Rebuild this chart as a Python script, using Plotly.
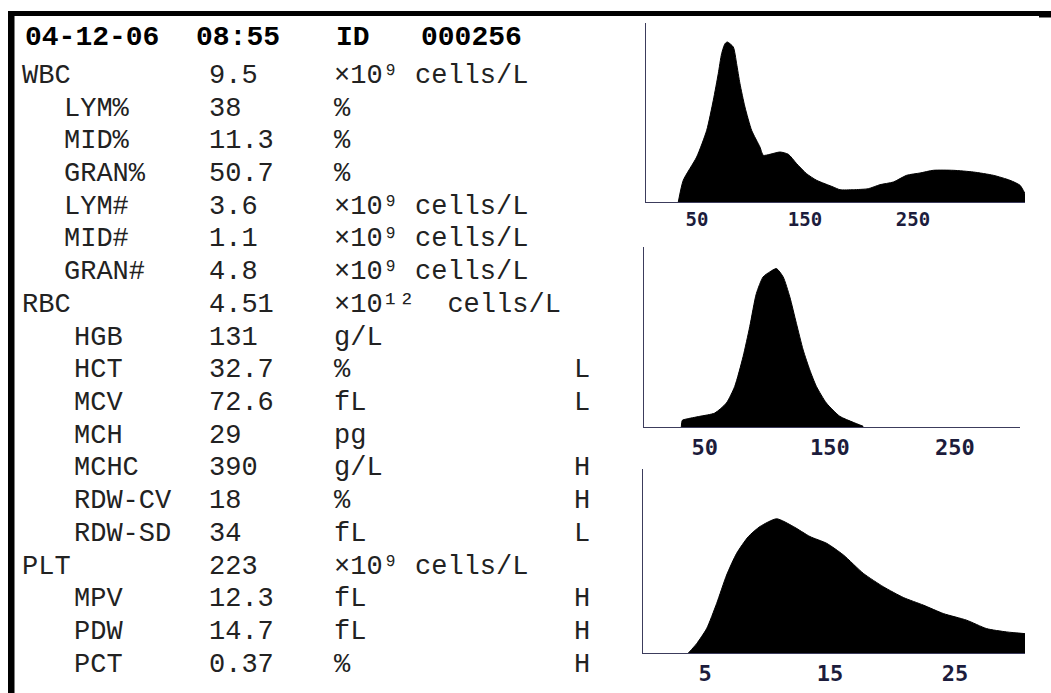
import plotly.graph_objects as go

W, H = 1051, 693

# ---------------- data ----------------
header_date = "04-12-06"
header_time = "08:55"
header_id_label = "ID"
header_id = "000256"

labels = ["WBC", "LYM%", "MID%", "GRAN%", "LYM#", "MID#", "GRAN#",
          "RBC", "HGB", "HCT", "MCV", "MCH", "MCHC", "RDW-CV", "RDW-SD",
          "PLT", "MPV", "PDW", "PCT"]
levels = [0, 1, 1, 1, 1, 1, 1,
          0, 2, 2, 2, 2, 2, 2, 2,
          0, 2, 2, 2]
values = ["9.5", "38", "11.3", "50.7", "3.6", "1.1", "4.8",
          "4.51", "131", "32.7", "72.6", "29", "390", "18", "34",
          "223", "12.3", "14.7", "0.37"]
units = ["×10⁹ cells/L", "%", "%", "%", "×10⁹ cells/L",
         "×10⁹ cells/L", "×10⁹ cells/L",
         "×10¹²  cells/L", "g/L", "%", "fL", "pg", "g/L", "%", "fL",
         "×10⁹ cells/L", "fL", "fL", "%"]
flags = ["", "", "", "", "", "", "",
         "", "", "L", "L", "", "H", "H", "L",
         "", "H", "H", "H"]

# WBC histogram (volume fL vs relative count)
wbc_x = [32.7, 37.3, 49.7, 59.0, 65.1, 69.7, 72.8, 75.9, 78.1, 83.6, 86.7, 89.8,
         94.4, 100.6, 108.3, 111.4, 117.6, 126.9, 134.6, 142.3, 151.5, 160.8,
         176.2, 182.4, 194.8, 208.6, 219.4, 231.8, 244.1, 256.5, 268.8, 287.3,
         305.9, 324.4, 339.8, 349.1, 353.7]
wbc_y = [0, 21.7, 45, 71.7, 101.7, 128.3, 148.3, 158.3, 160, 155, 138.3, 118.3,
         95, 71.7, 55, 46.7, 47.7, 50, 47.7, 38.3, 28.3, 21.7,
         15, 12.3, 12.3, 13.3, 17.3, 20, 26.7, 29, 31.7, 31.7,
         30, 26.7, 21.7, 16.7, 8.3]
wbc_ticks = [50, 150, 250]

# RBC histogram
rbc_x = [31.3, 32.1, 35.3, 46.0, 58.0, 67.3, 74.0, 80.7, 86.0, 91.3, 96.7, 102.0,
         107.3, 112.7, 118.0, 123.3, 128.7, 134.0, 139.3, 147.3, 158.0, 168.7, 176.7]
rbc_y = [0, 6.7, 8, 10.7, 14, 24, 40.7, 70.7, 100.7, 134, 150.7, 155.7,
         159, 150.7, 130.7, 104, 77.3, 57.3, 40.7, 24, 10.7, 4.7, 0.7]
rbc_ticks = [50, 150, 250]

# PLT histogram
plt_x = [3.67, 4.33, 5.13, 5.93, 6.73, 7.53, 8.47, 9.40, 10.73, 12.07, 13.40,
         14.73, 16.07, 17.67, 19.27, 20.87, 22.47, 24.07, 25.93, 27.53, 29.13, 30.6]
plt_y = [0, 9.3, 24.3, 49.3, 77.7, 99.3, 116, 126, 133.7, 126, 116,
         109.3, 97.7, 79.3, 66, 55.3, 47.7, 39.3, 32.7, 24.3, 21, 19.3]
plt_ticks = [5, 15, 25]

# ---------------- figure ----------------
fig = go.Figure()

def px_x(p):
    return p / W

def px_y(p):
    return 1 - p / H

hists = [
    (wbc_x, wbc_y, wbc_ticks, (646, 1025), (23, 202), (2.8, 353.7), 179, 19),
    (rbc_x, rbc_y, rbc_ticks, (644, 1020), (247, 427), (1.5, 302), 180.7, 22),
    (plt_x, plt_y, plt_ticks, (643, 1025), (469, 653), (0.04, 30.6), 183.3, 22),
]

axis_color = "#3c3c5c"
for i, (xs, ys, tks, (x0, x1), (y0, y1), xr, ytop, fsz) in enumerate(hists, start=1):
    sfx = "" if i == 1 else str(i)
    fig.add_trace(go.Scatter(
        x=xs, y=ys, mode="lines", fill="tozeroy",
        fillcolor="black", line=dict(color="black", width=1, shape="spline", smoothing=0.6),
        xaxis="x" + sfx, yaxis="y" + sfx, showlegend=False, hoverinfo="skip"))
    fig.layout["xaxis" + sfx] = dict(
        domain=[px_x(x0), px_x(x1)], range=list(xr), anchor="y" + sfx,
        showgrid=False, zeroline=False, showline=True, linecolor=axis_color,
        linewidth=1.2, ticks="", tickvals=tks, ticktext=[str(t) for t in tks],
        tickfont=dict(family="DejaVu Sans Mono", size=fsz, color="#1c1c3c",
                      weight="bold"),
        fixedrange=True)
    fig.layout["yaxis" + sfx] = dict(
        domain=[px_y(y1), px_y(y0)], range=[0, ytop], anchor="x" + sfx,
        showgrid=False, zeroline=False, showline=True, linecolor=axis_color,
        linewidth=1.2, showticklabels=False, ticks="", fixedrange=True)

ann = []
hfont = dict(family="Liberation Mono", size=28, color="black", weight="bold")
for txt, x in [(header_date, 23), (header_time, 194), (header_id_label, 334), (header_id, 419)]:
    ann.append(dict(text=txt, x=px_x(x), y=px_y(38), xref="paper", yref="paper",
                    xanchor="left", yanchor="middle", showarrow=False, font=hfont))

rfont = dict(family="Liberation Mono", size=27, color="#222222")
indent = {0: 21, 1: 63, 2: 73}
for i, (lab, lv, val, un, fl) in enumerate(zip(labels, levels, values, units, flags)):
    yc = 76 + i * 32.7
    for txt, x in [(lab, indent[lv]), (val, 208), (un, 333), (fl, 573)]:
        if not txt:
            continue
        ann.append(dict(text=txt, x=px_x(x), y=px_y(yc), xref="paper", yref="paper",
                        xanchor="left", yanchor="middle", showarrow=False, font=rfont,
                        borderpad=0))

shapes = [
    dict(type="rect", xref="paper", yref="paper", x0=px_x(8), x1=1.0,
         y0=px_y(16), y1=px_y(11), fillcolor="black", line=dict(width=0)),
    dict(type="rect", xref="paper", yref="paper", x0=px_x(1039), x1=1.0,
         y0=px_y(17.5), y1=px_y(11), fillcolor="black", line=dict(width=0)),
    dict(type="rect", xref="paper", yref="paper", x0=px_x(8), x1=px_x(14.5),
         y0=0, y1=px_y(11), fillcolor="black", line=dict(width=0)),
]

fig.update_layout(
    width=W, height=H, margin=dict(l=0, r=0, t=0, b=0),
    paper_bgcolor="white", plot_bgcolor="white",
    annotations=ann, shapes=shapes, showlegend=False,
)

fig.write_html("out.html", config={"displayModeBar": False},
               post_script="document.body.style.margin='0px';document.body.style.padding='0px';")
